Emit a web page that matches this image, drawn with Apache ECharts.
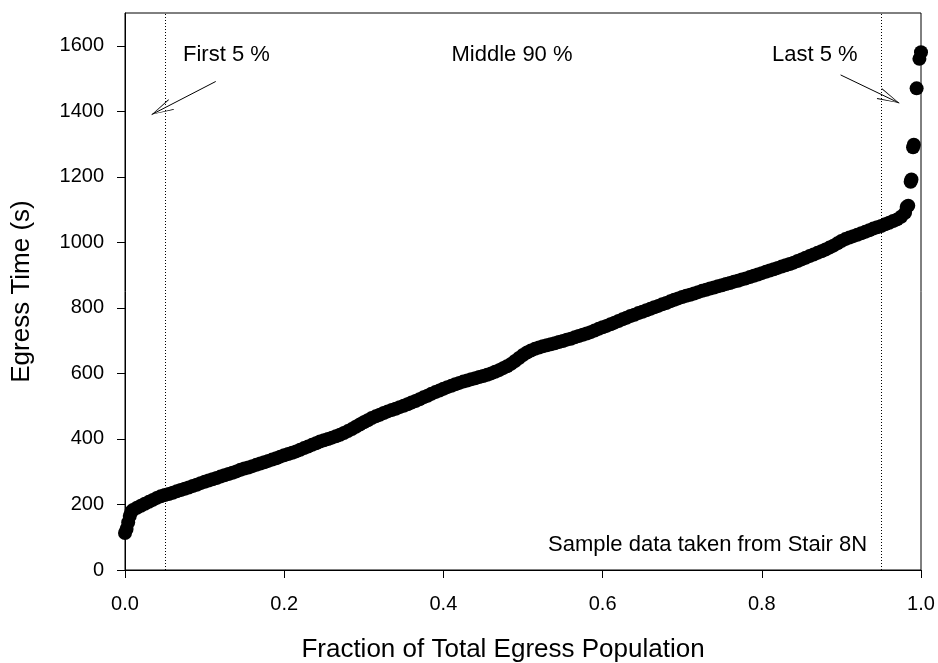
<!DOCTYPE html>
<html>
<head>
<meta charset="utf-8">
<script src="https://cdn.jsdelivr.net/npm/echarts@6/dist/echarts.min.js"></script>
<style>
  html, body { margin: 0; padding: 0; background: #fff; }
  #main { width: 938px; height: 663px; }
</style>
</head>
<body>
<div id="main"></div>
<script>
// fraction of population (x) and egress time in seconds (y)
var fraction = [
    0.000, 0.002, 0.004, 0.006, 0.008,
    0.010, 0.015, 0.020, 0.025, 0.030, 0.035, 0.040, 0.045, 0.050, 0.055,
    0.060, 0.065, 0.070, 0.075, 0.080, 0.085, 0.090, 0.095, 0.100, 0.105,
    0.110, 0.115, 0.120, 0.125, 0.130, 0.135, 0.140, 0.145, 0.150, 0.155,
    0.160, 0.165, 0.170, 0.175, 0.180, 0.185, 0.190, 0.195, 0.200, 0.205,
    0.210, 0.215, 0.220, 0.225, 0.230, 0.235, 0.240, 0.245, 0.250, 0.255,
    0.260, 0.265, 0.270, 0.275, 0.280, 0.285, 0.290, 0.295, 0.300, 0.305,
    0.310, 0.315, 0.320, 0.325, 0.330, 0.335, 0.340, 0.345, 0.350, 0.355,
    0.360, 0.365, 0.370, 0.375, 0.380, 0.385, 0.390, 0.395, 0.400, 0.405,
    0.410, 0.415, 0.420, 0.425, 0.430, 0.435, 0.440, 0.445, 0.450, 0.455,
    0.460, 0.465, 0.470, 0.475, 0.480, 0.485, 0.490, 0.495, 0.500, 0.505,
    0.510, 0.515, 0.520, 0.525, 0.530, 0.535, 0.540, 0.545, 0.550, 0.555,
    0.560, 0.565, 0.570, 0.575, 0.580, 0.585, 0.590, 0.595, 0.600, 0.605,
    0.610, 0.615, 0.620, 0.625, 0.630, 0.635, 0.640, 0.645, 0.650, 0.655,
    0.660, 0.665, 0.670, 0.675, 0.680, 0.685, 0.690, 0.695, 0.700, 0.705,
    0.710, 0.715, 0.720, 0.725, 0.730, 0.735, 0.740, 0.745, 0.750, 0.755,
    0.760, 0.765, 0.770, 0.775, 0.780, 0.785, 0.790, 0.795, 0.800, 0.805,
    0.810, 0.815, 0.820, 0.825, 0.830, 0.835, 0.840, 0.845, 0.850, 0.855,
    0.860, 0.865, 0.870, 0.875, 0.880, 0.885, 0.890, 0.895, 0.900, 0.905,
    0.910, 0.915, 0.920, 0.925, 0.930, 0.935, 0.940, 0.945, 0.950, 0.955,
    0.960, 0.965, 0.970, 0.975, 0.980,
    0.982, 0.984, 0.987, 0.988, 0.990, 0.991, 0.9945, 0.998, 1.000
];
var egressTime = [
    113, 125, 145, 165, 178,
    183, 190, 196, 202, 208, 214, 220, 225, 229, 232,
    236, 240, 244, 248, 252, 256, 260, 265, 269, 273,
    277, 281, 285, 289, 293, 297, 301, 306, 310, 313,
    317, 321, 325, 329, 333, 337, 341, 346, 350, 354,
    358, 362, 367, 372, 377, 382, 387, 392, 396, 400,
    404, 408, 413, 418, 424, 430, 437, 444, 451, 457,
    464, 469, 474, 479, 484, 488, 492, 497, 501, 506,
    511, 516, 521, 527, 532, 538, 543, 548, 553, 558,
    562, 567, 571, 575, 578, 582, 585, 589, 592, 596,
    600, 605, 610, 616, 622, 629, 638, 647, 656, 664,
    670, 675, 679, 683, 686, 689, 692, 696, 699, 703,
    706, 710, 714, 718, 722, 726, 731, 736, 741, 745,
    750, 755, 760, 765, 770, 775, 779, 784, 788, 793,
    797, 802, 806, 811, 815, 820, 825, 829, 833, 837,
    840, 844, 848, 852, 855, 859, 862, 866, 869, 873,
    876, 880, 883, 887, 890, 894, 898, 902, 906, 910,
    914, 918, 922, 926, 930, 934, 938, 943, 948, 953,
    958, 963, 968, 973, 978, 984, 990, 997, 1004, 1010,
    1015, 1019, 1023, 1028, 1032, 1037, 1042, 1046, 1050, 1055,
    1060, 1065, 1070, 1078, 1090,
    1108, 1112, 1185, 1192, 1290, 1298, 1470, 1560, 1580
];

var xTicks = [0, 0.2, 0.4, 0.6, 0.8, 1.0];
var yTicks = [0, 200, 400, 600, 800, 1000, 1200, 1400, 1600];

// region boundaries and annotation arrows (data coords)
var cutLines = [0.05, 0.95];
var firstArrow = [[0.114, 1491], [0.0335, 1390]];
var lastArrow = [[0.899, 1511], [0.9727, 1425]];

var FONT = '"Liberation Sans", Arial, sans-serif';
var arrowHead = 'path://M6,0 L12,22 L11,22 L6,2 L1,22 L0,22 Z';

var points = [];
for (var i = 0; i < fraction.length; i++) {
    points.push([fraction[i], egressTime[i]]);
}

function arrowLine(a) {
    return [
        { coord: a[0], symbol: 'none' },
        { coord: a[1], symbol: arrowHead, symbolSize: [12, 22], symbolOffset: [0, 11] }
    ];
}

var myChart = echarts.init(document.getElementById('main'), null, { renderer: 'canvas' });

var option = {
    animation: false,
    backgroundColor: '#ffffff',
    grid: {
        left: 125,
        right: 17,
        top: 13,
        bottom: 93,
        outerBoundsMode: 'none',
        containLabel: false,
        show: true,
        borderColor: '#000',
        borderWidth: 1
    },
    xAxis: {
        type: 'value',
        min: 0,
        max: 1,
        interval: 0.2,
        name: 'Fraction of Total Egress Population',
        nameLocation: 'middle',
        nameGap: 67,
        nameTextStyle: { fontFamily: FONT, fontSize: 26, color: '#000', padding: [0, 40, 0, 0] },
        axisLine: { lineStyle: { color: '#000', width: 1 } },
        axisTick: { show: true, length: 8, lineStyle: { color: '#000' }, customValues: xTicks },
        axisLabel: {
            fontFamily: FONT, fontSize: 20, color: '#000', margin: 24,
            customValues: xTicks,
            formatter: function (v) { return v.toFixed(1); }
        },
        splitLine: { show: false }
    },
    yAxis: {
        type: 'value',
        min: 0,
        max: 1700,
        interval: 200,
        name: 'Egress Time (s)',
        nameLocation: 'middle',
        nameGap: 90,
        nameTextStyle: { fontFamily: FONT, fontSize: 26, color: '#000' },
        axisLine: { show: true, lineStyle: { color: '#000', width: 1 } },
        axisTick: { show: true, length: 8, lineStyle: { color: '#000' }, customValues: yTicks },
        axisLabel: {
            fontFamily: FONT, fontSize: 20, color: '#000', margin: 21,
            customValues: yTicks,
            formatter: function (v) { return String(v); }
        },
        splitLine: { show: false }
    },
    series: [
        {
            name: 'Egress',
            type: 'scatter',
            symbol: 'circle',
            symbolSize: 14,
            itemStyle: { color: '#000', opacity: 1 },
            data: points,
            markLine: {
                silent: true,
                symbol: 'none',
                label: { show: false },
                lineStyle: { color: '#000', width: 1, type: [1, 2] },
                data: cutLines.map(function (x) { return { xAxis: x }; })
            }
        },
        {
            name: 'arrows',
            type: 'scatter',
            data: [],
            markLine: {
                silent: true,
                label: { show: false },
                lineStyle: { color: '#000', width: 1, type: 'solid' },
                itemStyle: { color: '#000' },
                data: [arrowLine(firstArrow), arrowLine(lastArrow)]
            }
        }
    ],
    graphic: [
        { type: 'text', style: { x: 183, y: 55, text: 'First 5 %', font: '22px ' + FONT, fill: '#000', verticalAlign: 'middle' } },
        { type: 'text', style: { x: 512, y: 55, text: 'Middle 90 %', font: '22px ' + FONT, fill: '#000', align: 'center', verticalAlign: 'middle' } },
        { type: 'text', style: { x: 772, y: 55, text: 'Last 5 %', font: '22px ' + FONT, fill: '#000', verticalAlign: 'middle' } },
        { type: 'text', style: { x: 548, y: 545, text: 'Sample data taken from Stair 8N', font: '22px ' + FONT, fill: '#000', verticalAlign: 'middle' } }
    ]
};

myChart.setOption(option, true);
</script>
</body>
</html>
